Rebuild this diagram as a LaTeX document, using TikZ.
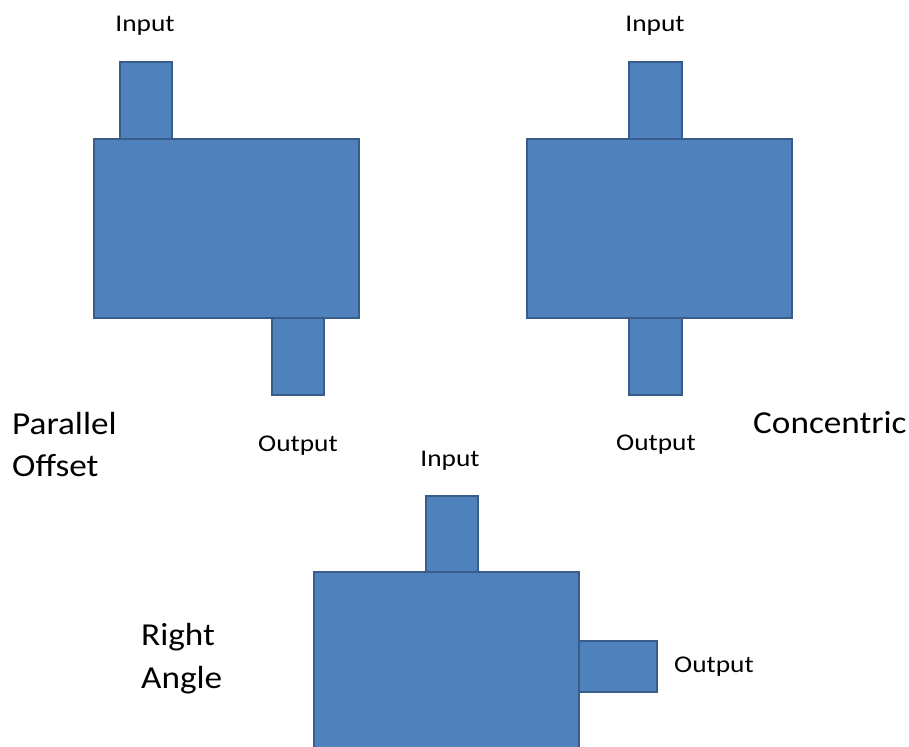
\documentclass[tikz,border=0pt]{standalone}
\usepackage{fontspec}
\setmainfont{Carlito}
\definecolor{partfill}{HTML}{4F81BD}
\definecolor{partline}{HTML}{385D8A}
\tikzset{
  part/.style={fill=partfill, draw=partline, line width=2.5pt},
  port/.style={font=\fontsize{24}{28}\selectfont, inner sep=0pt, anchor=base, xscale=1.14, transform shape},
  kind/.style={font=\fontsize{32}{42}\selectfont, inner sep=0pt, anchor=base west, xscale=1.1, transform shape}
}
\begin{document}
\begin{tikzpicture}[x=1pt, y=-1pt]
  \useasboundingbox (0,0) rectangle (909,746);
  \clip (0,0) rectangle (909,746);

  % Parallel offset gearbox
  \draw[part] (120,62) rectangle (172,139);
  \draw[part] (272,318) rectangle (324,395);
  \draw[part] (94,139) rectangle (359,318);
  \node[port] (poIn) at (145,32) {Input};
  \node[port] (poOut) at (298,451) {Output};
  \node[kind] (poA) at (12,434) {Parallel};
  \node[kind] (poB) at (12,476) {Offset};

  % Concentric gearbox
  \draw[part] (629,62) rectangle (682,139);
  \draw[part] (629,318) rectangle (682,395);
  \draw[part] (527,139) rectangle (792,318);
  \node[port] (ccIn) at (655,32) {Input};
  \node[port] (ccOut) at (656,450) {Output};
  \node[kind] (ccA) at (753,433) {Concentric};

  % Right angle gearbox
  \draw[part] (426,496) rectangle (478,572);
  \draw[part] (579,641) rectangle (657,692);
  \draw[part] (314,572) rectangle (579,770);
  \node[port] (raIn) at (450,466) {Input};
  \node[port, anchor=base west] (raOut) at (674,672) {Output};
  \node[kind] (raA) at (141,645) {Right};
  \node[kind] (raB) at (141,688) {Angle};
\end{tikzpicture}
\end{document}
